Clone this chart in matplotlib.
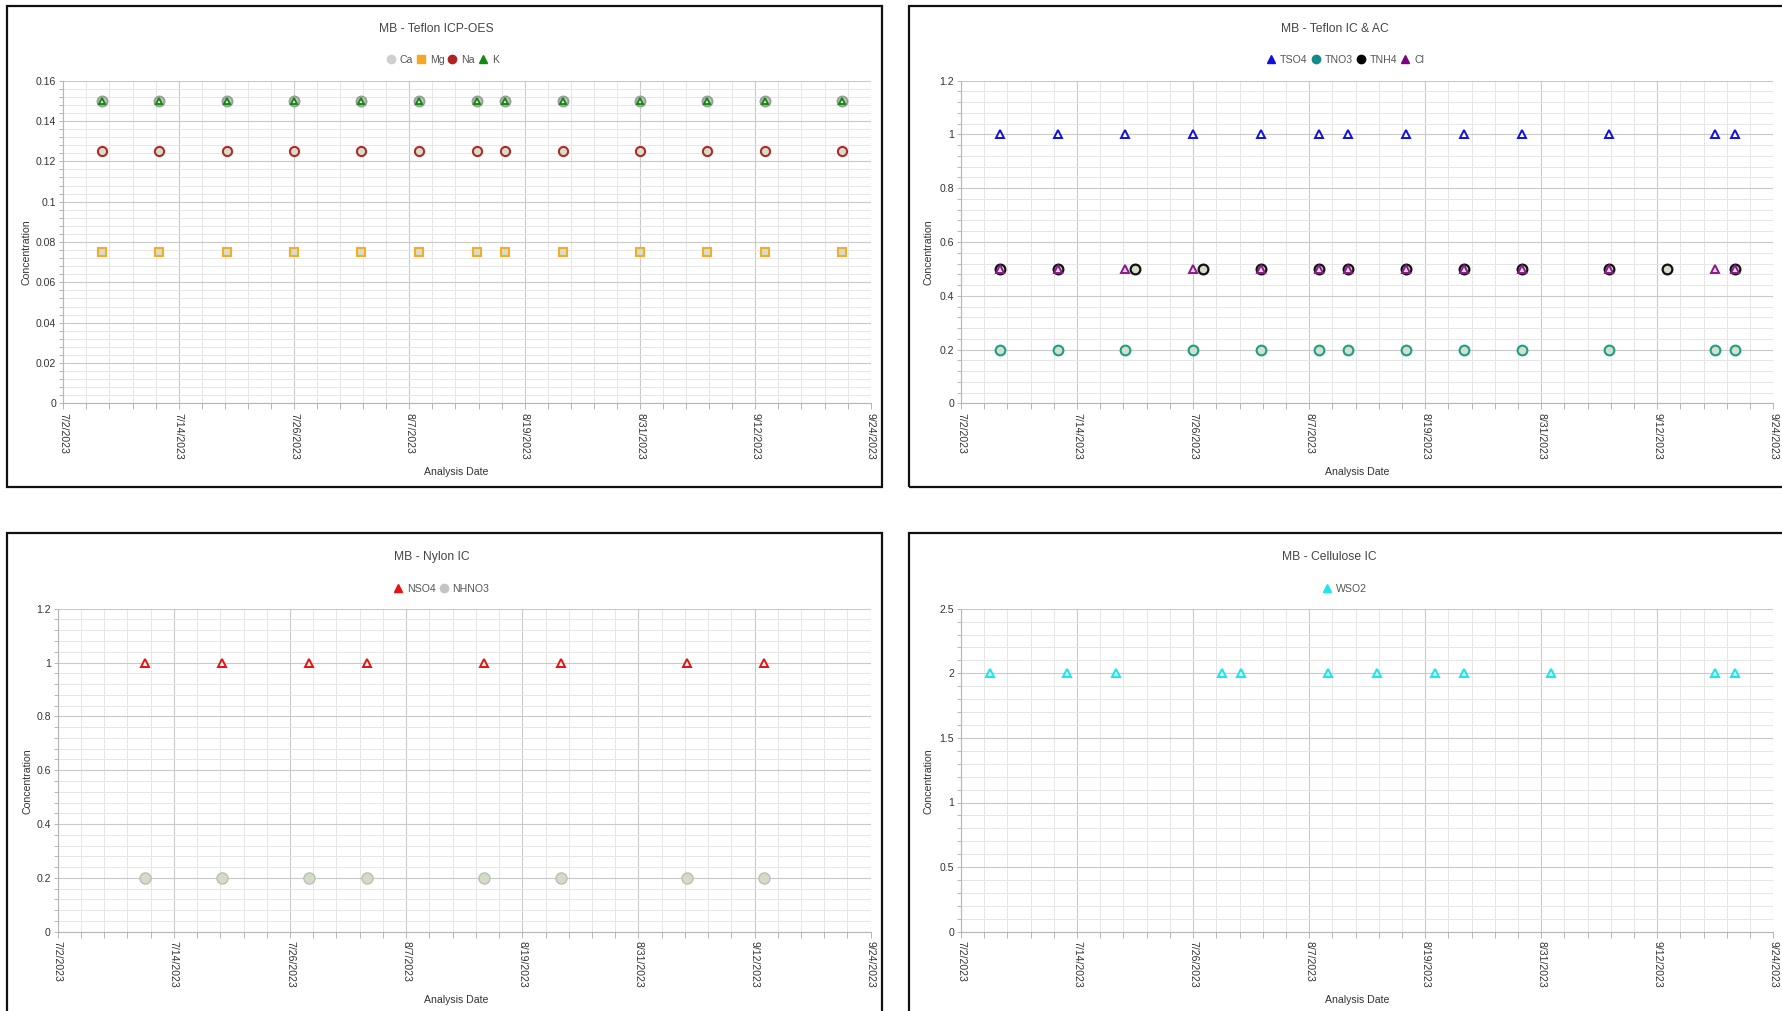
import matplotlib
matplotlib.use("Agg")
import matplotlib.pyplot as plt
import matplotlib.dates as mdates
from matplotlib.lines import Line2D
from matplotlib.patches import Rectangle
from matplotlib.ticker import FuncFormatter, FixedLocator
import numpy as np
import pandas as pd

plt.rcParams['font.family'] = ['Liberation Sans', 'DejaVu Sans']

W, H = 1783, 1011

# ---- data ----
# Teflon ICP-OES
icp_dates = ["2023-07-06", "2023-07-12", "2023-07-19", "2023-07-26", "2023-08-02",
             "2023-08-08", "2023-08-14", "2023-08-17", "2023-08-23", "2023-08-31",
             "2023-09-07", "2023-09-13", "2023-09-21"]
ca_vals = [0.15, 0.15, 0.15, 0.15, 0.15, 0.15, 0.15, 0.15, 0.15, 0.15, 0.15, 0.15, 0.15]
mg_vals = [0.075, 0.075, 0.075, 0.075, 0.075, 0.075, 0.075, 0.075, 0.075, 0.075, 0.075, 0.075, 0.075]
na_vals = [0.125, 0.125, 0.125, 0.125, 0.125, 0.125, 0.125, 0.125, 0.125, 0.125, 0.125, 0.125, 0.125]
k_vals = [0.15, 0.15, 0.15, 0.15, 0.15, 0.15, 0.15, 0.15, 0.15, 0.15, 0.15, 0.15, 0.15]

# Teflon IC & AC
ic_dates = ["2023-07-06", "2023-07-12", "2023-07-19", "2023-07-26", "2023-08-02",
            "2023-08-08", "2023-08-11", "2023-08-17", "2023-08-23", "2023-08-29",
            "2023-09-07", "2023-09-18", "2023-09-20"]
tso4_vals = [1, 1, 1, 1, 1, 1, 1, 1, 1, 1, 1, 1, 1]
tno3_vals = [0.2, 0.2, 0.2, 0.2, 0.2, 0.2, 0.2, 0.2, 0.2, 0.2, 0.2, 0.2, 0.2]
tnh4_dates = ["2023-07-06", "2023-07-12", "2023-07-20", "2023-07-27", "2023-08-02",
              "2023-08-08", "2023-08-11", "2023-08-17", "2023-08-23", "2023-08-29",
              "2023-09-07", "2023-09-13", "2023-09-20"]
tnh4_vals = [0.5, 0.5, 0.5, 0.5, 0.5, 0.5, 0.5, 0.5, 0.5, 0.5, 0.5, 0.5, 0.5]
cl_dates = ["2023-07-06", "2023-07-12", "2023-07-19", "2023-07-26", "2023-08-02",
            "2023-08-08", "2023-08-11", "2023-08-17", "2023-08-23", "2023-08-29",
            "2023-09-07", "2023-09-18", "2023-09-20"]
cl_vals = [0.5, 0.5, 0.5, 0.5, 0.5, 0.5, 0.5, 0.5, 0.5, 0.5, 0.5, 0.5, 0.5]

# Nylon IC
nylon_dates = ["2023-07-11", "2023-07-19", "2023-07-28", "2023-08-03",
               "2023-08-15", "2023-08-23", "2023-09-05", "2023-09-13"]
nso4_vals = [1, 1, 1, 1, 1, 1, 1, 1]
nhno3_vals = [0.2, 0.2, 0.2, 0.2, 0.2, 0.2, 0.2, 0.2]

# Cellulose IC
cell_dates = ["2023-07-05", "2023-07-13", "2023-07-18", "2023-07-29", "2023-07-31",
              "2023-08-09", "2023-08-14", "2023-08-20", "2023-08-23", "2023-09-01",
              "2023-09-18", "2023-09-20"]
wso2_vals = [2, 2, 2, 2, 2, 2, 2, 2, 2, 2, 2, 2]

x_start, x_end = "2023-07-02", "2023-09-24"

FILL = '#d5dec9'
TRI_FILL = '#eef2e8'


def px_axes(fig, x0, x1, ytop, ybot):
    return fig.add_axes([x0 / W, 1 - ybot / H, (x1 - x0) / W, (ybot - ytop) / H])


def date_fmt(v, pos):
    d = mdates.num2date(v)
    return f"{d.month}/{d.day}/{d.year}"


def style_axes(ax, ymax, ystep):
    x0 = mdates.date2num(pd.Timestamp(x_start))
    x1 = mdates.date2num(pd.Timestamp(x_end))
    ax.set_xlim(x0, x1)
    ax.set_ylim(0, ymax)
    majors = mdates.date2num(pd.date_range(x_start, x_end, freq='12D'))
    ax.xaxis.set_major_locator(FixedLocator(majors))
    ax.xaxis.set_minor_locator(FixedLocator(np.linspace(x0, x1, 36)))
    ax.xaxis.set_major_formatter(FuncFormatter(date_fmt))
    nmaj = int(round(ymax / ystep))
    ax.yaxis.set_major_locator(FixedLocator(np.linspace(0, ymax, nmaj + 1)))
    ax.yaxis.set_minor_locator(FixedLocator(np.linspace(0, ymax, nmaj * 5 + 1)))
    ax.yaxis.set_major_formatter(FuncFormatter(lambda v, p: f"{round(v, 4):g}"))
    ax.grid(which='major', color='#c9c9c9', lw=0.8)
    ax.grid(which='minor', color='#e6e6e6', lw=0.7)
    ax.set_axisbelow(True)
    for s in ['top', 'right']:
        ax.spines[s].set_visible(False)
    for s in ['left', 'bottom']:
        ax.spines[s].set_color('#b5b5b5')
        ax.spines[s].set_linewidth(0.8)
    ax.tick_params(axis='x', which='both', direction='out', length=4, width=0.7,
                   color='#b5b5b5', labelsize=7.6, labelcolor='#333333', pad=3)
    ax.tick_params(axis='y', which='both', direction='out', length=3, width=0.7,
                   color='#b5b5b5', labelsize=7.6, labelcolor='#333333', pad=2)
    for lab in ax.get_xticklabels():
        lab.set_rotation(-90)
        lab.set_va('top')
        lab.set_ha('center')


def panel_text(fig, title, title_x, title_y, ylab_x, ylab_y, xlab_x, xlab_y):
    fig.text(title_x / W, 1 - title_y / H, title, ha='center', va='center',
             fontsize=8.7, color='#454545')
    fig.text(ylab_x / W, 1 - ylab_y / H, 'Concentration', ha='center', va='center',
             rotation=90, fontsize=7.6, color='#333333')
    fig.text(xlab_x / W, 1 - xlab_y / H, 'Analysis Date', ha='center', va='center',
             fontsize=7.6, color='#333333')


def legend(fig, entries, cx, cy):
    handles = [Line2D([], [], marker=m, linestyle='none', markerfacecolor=c,
                      markeredgecolor=c, markersize=6) for m, c, _ in entries]
    labels = [lab for _, _, lab in entries]
    fig.legend(handles, labels, loc='center', bbox_to_anchor=(cx / W, 1 - cy / H),
               ncol=len(entries), frameon=False, fontsize=7.6, labelcolor='#555555',
               handletextpad=0.35, columnspacing=0.25, handlelength=1.0,
               borderpad=0, borderaxespad=0)


def box(fig, x0, x1, ytop, ybot):
    fig.add_artist(Rectangle((x0 / W, 1 - ybot / H), (x1 - x0) / W, (ybot - ytop) / H,
                             transform=fig.transFigure, fill=False, lw=1.6, ec='#111111'))


def to_dates(lst):
    return pd.to_datetime(lst)


fig = plt.figure(figsize=(W / 100, H / 100), dpi=100)

box(fig, 7, 882, 6, 487)
box(fig, 909, 1800, 6, 487)
box(fig, 7, 882, 533, 1030)
box(fig, 909, 1800, 533, 1030)

# ---- top left: Teflon ICP-OES ----
ax1 = px_axes(fig, 63.3, 870.7, 80.7, 403.3)
style_axes(ax1, 0.16, 0.02)
d = to_dates(icp_dates)
ax1.plot(d, ca_vals, 'o', ms=7.2, mfc='#c3c9bc', mec='#9c9c9c', mew=1.4, zorder=3)
ax1.plot(d, na_vals, 'o', ms=6.6, mfc=FILL, mec='#b02a2a', mew=1.5, zorder=3)
ax1.plot(d, mg_vals, 's', ms=5.6, mfc=FILL, mec='#f5ac2a', mew=1.5, zorder=3)
ax1.plot(d, k_vals, '^', ms=4.6, mfc=TRI_FILL, mec='#138a13', mew=1.4, zorder=4)
panel_text(fig, 'MB - Teflon ICP-OES', 436, 29.5, 27, 252, 456, 472)
legend(fig, [('o', '#cfcfcf', 'Ca'), ('s', '#f5a623', 'Mg'),
             ('o', '#b22222', 'Na'), ('^', '#118a11', 'K')], 442, 60)

# ---- top right: Teflon IC & AC ----
ax2 = px_axes(fig, 961, 1773.3, 80.7, 403.3)
style_axes(ax2, 1.2, 0.2)
d = to_dates(ic_dates)
ax2.plot(d, tso4_vals, '^', ms=5.2, mfc='white', mec='#1010e0', mew=1.4, zorder=3)
ax2.plot(d, tno3_vals, 'o', ms=7, mfc=FILL, mec='#1f9c8a', mew=1.5, zorder=3)
ax2.plot(to_dates(tnh4_dates), tnh4_vals, 'o', ms=7, mfc=FILL, mec='#111111', mew=1.6, zorder=3)
ax2.plot(to_dates(cl_dates), cl_vals, '^', ms=5.2, mfc='#e8d6ec', mec='#8a1a8a', mew=1.4, zorder=4)
panel_text(fig, 'MB - Teflon IC & AC', 1335, 29.5, 929, 252, 1357, 472)
legend(fig, [('^', '#1010e0', 'TSO4'), ('o', '#108a8a', 'TNO3'),
             ('o', '#000000', 'TNH4'), ('^', '#800080', 'Cl')], 1345, 60)

# ---- bottom left: Nylon IC ----
ax3 = px_axes(fig, 57.7, 870.7, 608.7, 931.7)
style_axes(ax3, 1.2, 0.2)
d = to_dates(nylon_dates)
ax3.plot(d, nhno3_vals, 'o', ms=8, mfc='#d3dcc6', mec='#bcc0b8', mew=1.0, zorder=3)
ax3.plot(d, nso4_vals, '^', ms=5.2, mfc='white', mec='#e81010', mew=1.4, zorder=3)
panel_text(fig, 'MB - Nylon IC', 432, 557, 27.3, 781, 456, 1000)
legend(fig, [('^', '#e81010', 'NSO4'), ('o', '#c4c4c4', 'NHNO3')], 441, 588.5)

# ---- bottom right: Cellulose IC ----
ax4 = px_axes(fig, 961, 1773.3, 608.7, 931.7)
style_axes(ax4, 2.5, 0.5)
d = to_dates(cell_dates)
ax4.plot(d, wso2_vals, '^', ms=5.4, mfc='#e6fbfb', mec='#1ee6ea', mew=1.5, zorder=3)
panel_text(fig, 'MB - Cellulose IC', 1329, 557, 929, 781, 1357, 1000)
legend(fig, [('^', '#1ee6ea', 'WSO2')], 1344, 588.5)

fig.savefig('out.png', dpi=100)
